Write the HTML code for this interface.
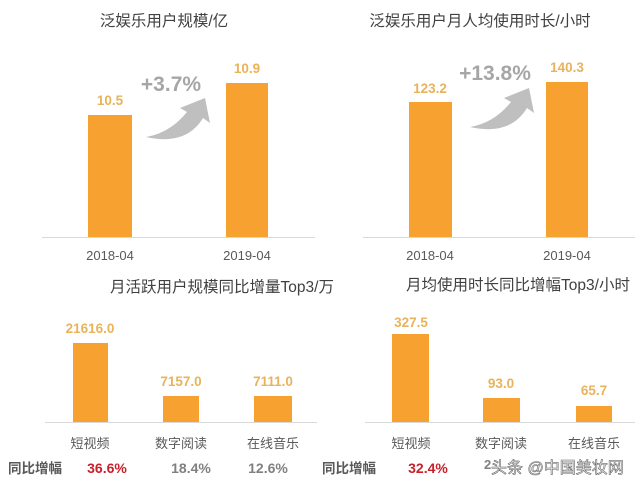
<!DOCTYPE html>
<html><head><meta charset="utf-8">
<style>
html,body{margin:0;padding:0;background:#fff;}
svg{display:block;}
text{font-family:"Liberation Sans","Noto Sans CJK SC",sans-serif;}
.t{font-size:15.5px;fill:#404040;}
.v{font-size:13.5px;font-weight:bold;fill:#e9b35b;}
.c{font-size:13px;fill:#595959;}
.p{font-size:21px;font-weight:bold;fill:#a6a6a6;}
.b{fill:#f7a131;}
</style></head>
<body>
<svg width="640" height="493" viewBox="0 0 640 493" xmlns="http://www.w3.org/2000/svg">
<rect width="640" height="493" fill="#fff"/>
<!-- Chart 1 -->
<text class="t" x="164" y="26" text-anchor="middle">泛娱乐用户规模/亿</text>
<rect class="b" x="88" y="115" width="44" height="122"/>
<rect class="b" x="226" y="83" width="42" height="154"/>
<line x1="42" y1="237.5" x2="315" y2="237.5" stroke="#d9d9d9" stroke-width="1"/>
<text class="v" x="110" y="105" text-anchor="middle">10.5</text>
<text class="v" x="247" y="73" text-anchor="middle">10.9</text>
<text class="c" x="110" y="260" text-anchor="middle">2018-04</text>
<text class="c" x="247" y="260" text-anchor="middle">2019-04</text>
<text class="p" x="171" y="91" text-anchor="middle">+3.7%</text>
<path d="M146,137 Q170,133 187,112 L180,108 L205,98 L210,123 L203,118 Q186,146 146,137 Z" fill="#bfbfbf"/>

<!-- Chart 2 -->
<text class="t" x="480" y="26" text-anchor="middle">泛娱乐用户月人均使用时长/小时</text>
<rect class="b" x="409" y="102" width="43" height="135"/>
<rect class="b" x="546" y="82" width="42" height="155"/>
<line x1="363" y1="237.5" x2="635" y2="237.5" stroke="#d9d9d9" stroke-width="1"/>
<text class="v" x="430" y="93" text-anchor="middle">123.2</text>
<text class="v" x="567" y="72" text-anchor="middle">140.3</text>
<text class="c" x="430" y="260" text-anchor="middle">2018-04</text>
<text class="c" x="567" y="260" text-anchor="middle">2019-04</text>
<text class="p" x="495" y="80" text-anchor="middle">+13.8%</text>
<path d="M470,127 Q494,123 511,102 L504,98 L529,88 L534,113 L527,108 Q510,136 470,127 Z" fill="#bfbfbf"/>

<!-- Chart 3 -->
<text class="t" x="222" y="292" text-anchor="middle">月活跃用户规模同比增量Top3/万</text>
<rect class="b" x="73" y="343" width="35" height="79"/>
<rect class="b" x="163" y="396" width="36" height="26"/>
<rect class="b" x="254" y="396" width="38" height="26"/>
<line x1="45" y1="422.5" x2="317" y2="422.5" stroke="#d9d9d9" stroke-width="1"/>
<text class="v" x="90" y="333" text-anchor="middle">21616.0</text>
<text class="v" x="181" y="386" text-anchor="middle">7157.0</text>
<text class="v" x="273" y="386" text-anchor="middle">7111.0</text>
<text class="c" x="90" y="448" text-anchor="middle">短视频</text>
<text class="c" x="181" y="448" text-anchor="middle">数字阅读</text>
<text class="c" x="273" y="448" text-anchor="middle">在线音乐</text>
<text x="8" y="473" style="font-size:13.5px;font-weight:bold;fill:#595959;">同比增幅</text>
<text x="107" y="473" text-anchor="middle" style="font-size:14px;font-weight:bold;fill:#c8202a;">36.6%</text>
<text x="191" y="473" text-anchor="middle" style="font-size:14px;font-weight:bold;fill:#808080;">18.4%</text>
<text x="268" y="473" text-anchor="middle" style="font-size:14px;font-weight:bold;fill:#808080;">12.6%</text>

<!-- Chart 4 -->
<text class="t" x="518" y="290" text-anchor="middle">月均使用时长同比增幅Top3/小时</text>
<rect class="b" x="392" y="334" width="37" height="88"/>
<rect class="b" x="483" y="398" width="37" height="24"/>
<rect class="b" x="576" y="406" width="36" height="16"/>
<line x1="365" y1="422.5" x2="635" y2="422.5" stroke="#d9d9d9" stroke-width="1"/>
<text class="v" x="411" y="327" text-anchor="middle">327.5</text>
<text class="v" x="501" y="388" text-anchor="middle">93.0</text>
<text class="v" x="594" y="395" text-anchor="middle">65.7</text>
<text class="c" x="411" y="448" text-anchor="middle">短视频</text>
<text class="c" x="501" y="448" text-anchor="middle">数字阅读</text>
<text class="c" x="594" y="448" text-anchor="middle">在线音乐</text>
<text x="322" y="473" style="font-size:13.5px;font-weight:bold;fill:#595959;">同比增幅</text>
<text x="428" y="473" text-anchor="middle" style="font-size:14px;font-weight:bold;fill:#c8202a;">32.4%</text>
<text x="484" y="469" style="font-size:13px;font-weight:bold;fill:#808080;">2</text>
<text x="491" y="473" style="font-size:16px;fill:#fff;stroke:#666;stroke-width:0.6;">头条 @中国美妆网</text>
</svg>
</body></html>
